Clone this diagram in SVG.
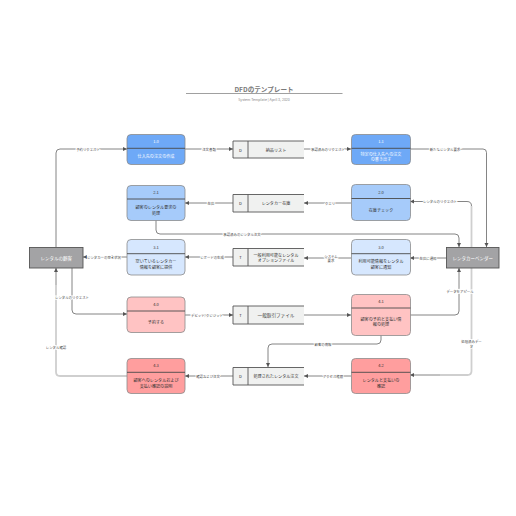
<svg xmlns="http://www.w3.org/2000/svg" width="516" height="516" viewBox="0 0 516 516">
<defs>
<marker id="ah" markerUnits="userSpaceOnUse" markerWidth="5" markerHeight="5" refX="4" refY="2" orient="auto">
<path d="M0,0 L4,2 L0,4 z" fill="#555"/>
</marker>
<style>
text{font-family:"Noto Sans CJK JP","Noto Sans",sans-serif;text-anchor:middle;dominant-baseline:central}
.p{stroke:#8c8c8c;stroke-width:0.8}
.dv{stroke:#4a4a4a;stroke-width:0.9}
.pt{font-size:4.1px;fill:#333}
.pw{font-size:4.1px;fill:#fff}
.st{fill:#f0f1f0;stroke:none}
.so{fill:none;stroke:#555;stroke-width:0.9}
.ent{fill:#a3a3a5;stroke:#555;stroke-width:0.9}
.et{font-size:4.5px;fill:#fff}
.c{fill:none;stroke:#666;stroke-width:0.8}
.cl{fill:none;stroke:#cfcfcf;stroke-width:1.8}
.l{font-size:3.4px;fill:#444;stroke:#fff;stroke-width:1.6;paint-order:stroke}
</style>
</defs>
<rect width="516" height="516" fill="#fff"/>
<g id="title">
<text x="264" y="89" style="font-size:6.6px;fill:#7a7a7a;font-weight:bold">DFDのテンプレート</text>
<line x1="186" y1="93.5" x2="342.5" y2="93.5" stroke="#777" stroke-width="0.7"/>
<text x="264" y="99" style="font-size:3.6px;fill:#888">System Template  |  April 3, 2020</text>
</g>
<g id="connectors">
<path class="cl" d="M471.5,247 V206"/>
<path class="cl" d="M471.5,268 V371 Q471.5,375 467.5,375 H440"/>
<path class="cl" d="M127,376 H60 Q56,376 56,372 V285"/>
<path class="c" d="M185,149 H233" marker-end="url(#ah)"/>
<path class="c" d="M304,149 H351" marker-end="url(#ah)"/>
<path class="c" d="M410,149 H483 Q486.5,149 486.5,152.5 V247" marker-end="url(#ah)"/>
<path class="c" d="M471.5,206 Q471.5,201.5 467,201.5 H410" marker-end="url(#ah)"/>
<path class="c" d="M351,203 H304" marker-end="url(#ah)"/>
<path class="c" d="M233,203 H185" marker-end="url(#ah)"/>
<path class="c" d="M156,220 V230 Q156,234 160,234 H455 Q459,234 459,238 V247" marker-end="url(#ah)"/>
<path class="c" d="M447,258 H410" marker-end="url(#ah)"/>
<path class="c" d="M351,258 H304" marker-end="url(#ah)"/>
<path class="c" d="M233,257 H185" marker-end="url(#ah)"/>
<path class="c" d="M127,257 H83" marker-end="url(#ah)"/>
<path class="c" d="M56,247 V153 Q56,149 60,149 H127" marker-end="url(#ah)"/>
<path class="c" d="M72,268 V310 Q72,314 76,314 H127" marker-end="url(#ah)"/>
<path class="c" d="M56,285 V268" marker-end="url(#ah)"/>
<path class="c" d="M185,315 H233" marker-end="url(#ah)"/>
<path class="c" d="M304,315 H351" marker-end="url(#ah)"/>
<path class="c" d="M410,315 H455 Q459,315 459,311 V268" marker-end="url(#ah)"/>
<path class="c" d="M381,335 V340 Q381,344 377,344 H272 Q268,344 268,348 V367" marker-end="url(#ah)"/>
<path class="c" d="M351,376 H304" marker-end="url(#ah)"/>
<path class="c" d="M233,376 H185" marker-end="url(#ah)"/>
<path class="c" d="M440,375 H410" marker-end="url(#ah)"/>
<text class="l" x="209" y="149">注文書類</text>
<text class="l" x="328" y="149">承認済みのリクエスト</text>
<text class="l" x="445" y="149">新たなレンタル要求</text>
<text class="l" x="440" y="201.5">レンタルのリクエスト</text>
<text class="l" x="330" y="203">クエリ</text>
<text class="l" x="211" y="203">在庫</text>
<text class="l" x="242" y="234">承認済みのレンタル注文</text>
<text class="l" x="428" y="258">在庫に通知</text>
<text class="l" x="331" y="256">システム</text>
<text class="l" x="331" y="260">要求</text>
<text class="l" x="212" y="257">レポートの生成</text>
<text class="l" x="104" y="257">レンタカーの空き状況</text>
<text class="l" x="88" y="149">予約リクエスト</text>
<text class="l" x="72" y="297">レンタルのリクエスト</text>
<text class="l" x="56" y="347">レンタル確認</text>
<text class="l" x="207" y="315">デビット/クレジット</text>
<text class="l" x="460" y="291">データをアピール</text>
<text class="l" x="323" y="344">顧客の情報</text>
<text class="l" x="333" y="376">アクセス権限</text>
<text class="l" x="208" y="376">確認および注文</text>
<text class="l" x="471.5" y="341">処理済みデー</text>
<text class="l" x="471.5" y="346">タ</text>
</g>
<g id="p1-0">
<rect class="p" x="127" y="134.5" width="58" height="30" rx="4" fill="#6ea9f7"/>
<line class="dv" x1="127" y1="148.3" x2="185" y2="148.3"/>
<text class="pw" x="156" y="141.4">1.0</text>
<text class="pw" x="156" y="156.4">仕入先の注文の作成</text>
</g>
<g id="p1-1">
<rect class="p" x="351.5" y="134.5" width="59" height="30" rx="4" fill="#6ea9f7"/>
<line class="dv" x1="351.5" y1="148.3" x2="410.5" y2="148.3"/>
<text class="pw" x="381" y="141.4">1.1</text>
<text class="pw" x="381" y="154">特定の仕入先への注文</text>
<text class="pw" x="381" y="159">の書き出す</text>
</g>
<g id="p2-1">
<rect class="p" x="127" y="185.5" width="58" height="35" rx="4" fill="#a6cbfa"/>
<line class="dv" x1="127" y1="199" x2="185" y2="199"/>
<text class="pt" x="156" y="192.2">2.1</text>
<text class="pt" x="156" y="207">顧客のレンタル要求の</text>
<text class="pt" x="156" y="212.5">処理</text>
</g>
<g id="p2-0">
<rect class="p" x="351.5" y="184.5" width="59" height="36" rx="4" fill="#a6cbfa"/>
<line class="dv" x1="351.5" y1="198.5" x2="410.5" y2="198.5"/>
<text class="pt" x="381" y="191.5">2.0</text>
<text class="pt" x="381" y="209.5">在庫チェック</text>
</g>
<g id="p3-1">
<rect class="p" x="127" y="239.5" width="58" height="35.5" rx="4" fill="#d6e7fe"/>
<line class="dv" x1="127" y1="253.7" x2="185" y2="253.7"/>
<text class="pt" x="156" y="246.6">3.1</text>
<text class="pt" x="156" y="261.3">空いているレンタカー</text>
<text class="pt" x="156" y="266.8">情報を顧客に提供</text>
</g>
<g id="p3-0">
<rect class="p" x="351.5" y="239.5" width="59" height="35.5" rx="4" fill="#d6e7fe"/>
<line class="dv" x1="351.5" y1="253.7" x2="410.5" y2="253.7"/>
<text class="pt" x="381" y="246.6">3.0</text>
<text class="pt" x="381" y="261.3">利用可能情報をレンタル</text>
<text class="pt" x="381" y="266.8">顧客に通知</text>
</g>
<g id="p4-0">
<rect class="p" x="127" y="297" width="58" height="35.5" rx="4" fill="#ffc3c3"/>
<line class="dv" x1="127" y1="311" x2="185" y2="311"/>
<text class="pt" x="156" y="304">4.0</text>
<text class="pt" x="156" y="322">予約する</text>
</g>
<g id="p4-1">
<rect class="p" x="351.5" y="294.5" width="59" height="41" rx="4" fill="#ffc3c3"/>
<line class="dv" x1="351.5" y1="308" x2="410.5" y2="308"/>
<text class="pt" x="381" y="301.2">4.1</text>
<text class="pt" x="381" y="318.5">顧客の予約と支払い情</text>
<text class="pt" x="381" y="324">報の処理</text>
</g>
<g id="p4-3">
<rect class="p" x="127" y="358.5" width="58" height="35" rx="4" fill="#ff9e9e"/>
<line class="dv" x1="127" y1="372.3" x2="185" y2="372.3"/>
<text class="pt" x="156" y="365.4">4.3</text>
<text class="pt" x="156" y="380">顧客へのレンタルおよび</text>
<text class="pt" x="156" y="385.5">支払い確認の説明</text>
</g>
<g id="p4-2">
<rect class="p" x="351.5" y="358.5" width="59" height="35" rx="4" fill="#ff9e9e"/>
<line class="dv" x1="351.5" y1="372.3" x2="410.5" y2="372.3"/>
<text class="pt" x="381" y="365.4">4.2</text>
<text class="pt" x="381" y="380">レンタルと支払いの</text>
<text class="pt" x="381" y="385.5">確認</text>
</g>
<g id="e-customer">
<rect class="ent" x="29.5" y="247.5" width="53.5" height="20.5"/>
<text class="et" x="56.2" y="257.8">レンタルの顧客</text>
</g>
<g id="e-vendor">
<rect class="ent" x="446.5" y="247.5" width="52.5" height="20.5"/>
<text class="et" x="472.7" y="257.8">レンタカーベンダー</text>
</g>
<g id="s-delivery">
<rect class="st" x="233" y="141" width="71" height="17"/>
<path class="so" d="M304,141 H233 V158 H304 M248,141 V158"/>
<text class="pt" x="240.5" y="149.5">D</text>
<text class="pt" x="276" y="149.5">納品リスト</text>
</g>
<g id="s-stock">
<rect class="st" x="233" y="194.5" width="71" height="17.5"/>
<path class="so" d="M304,194.5 H233 V212 H304 M248,194.5 V212"/>
<text class="pt" x="240.5" y="203.2">D</text>
<text class="pt" x="276" y="203.2">レンタカー在庫</text>
</g>
<g id="s-options">
<rect class="st" x="233" y="248.5" width="71" height="17.5"/>
<path class="so" d="M304,248.5 H233 V266 H304 M248,248.5 V266"/>
<text class="pt" x="240.5" y="257.2">T</text>
<text class="pt" x="276" y="254.6">一般利用可能なレンタル</text>
<text class="pt" x="276" y="259.8">オプションファイル</text>
</g>
<g id="s-transactions">
<rect class="st" x="233" y="306" width="71" height="18"/>
<path class="so" d="M304,306 H233 V324 H304 M248,306 V324"/>
<text class="pt" x="240.5" y="315">T</text>
<text class="pt" x="276" y="315" style="font-size:4.6px">一般取引ファイル</text>
</g>
<g id="s-processed">
<rect class="st" x="233" y="367.5" width="71" height="17.5"/>
<path class="so" d="M304,367.5 H233 V385 H304 M248,367.5 V385"/>
<text class="pt" x="240.5" y="376.2">D</text>
<text class="pt" x="276" y="376.2">処理されたレンタル注文</text>
</g>
</svg>
